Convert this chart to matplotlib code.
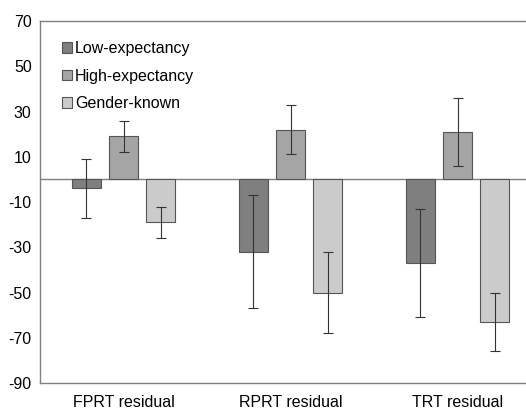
import numpy as np
import matplotlib
matplotlib.use('Agg')
import matplotlib.pyplot as plt

plt.rcParams['font.family'] = ['Liberation Sans', 'DejaVu Sans']

groups = ['FPRT residual', 'RPRT residual', 'TRT residual']
series = ['Low-expectancy', 'High-expectancy', 'Gender-known']
low = [-4, -32, -37]
low_err = [13, 25, 24]
high = [19, 22, 21]
high_err = [7, 11, 15]
gender = [-19, -50, -63]
gender_err = [7, 18, 13]
yticks = [70, 50, 30, 10, -10, -30, -50, -70, -90]

colors = ['#7f7f7f', '#a5a5a5', '#cbcbcb']

fig = plt.figure(figsize=(5.26, 4.09), dpi=100)
ax = fig.add_axes([40/526, 1 - 383/409, (526-40)/526, (383-21)/409])

x = np.arange(len(groups))
step = 0.222
width = 0.174
vals = [low, high, gender]
errs = [low_err, high_err, gender_err]
for i in range(3):
    ax.bar(x + (i-1)*step, vals[i], width, color=colors[i], edgecolor='#555555',
           linewidth=0.8, label=series[i], zorder=2)
    ax.errorbar(x + (i-1)*step, vals[i], yerr=errs[i], fmt='none', ecolor='#333333',
                elinewidth=0.8, capsize=3.5, capthick=0.8, zorder=3)

ax.axhline(0, color='#808080', linewidth=1, zorder=1)
ax.set_xlim(-0.5, 2.41)
ax.set_ylim(-90, 70)
ax.set_yticks(yticks)
ax.set_yticklabels([str(t) for t in yticks])
ax.set_xticks(x)
ax.set_xticklabels(groups)
ax.tick_params(length=0, labelsize=11.5, colors='black')
ax.tick_params(axis='y', pad=6)
ax.tick_params(axis='x', pad=8.5)
for s in ['left', 'top', 'bottom']:
    ax.spines[s].set_color('#808080')
    ax.spines[s].set_linewidth(1)
ax.spines['right'].set_visible(False)

leg = ax.legend(loc='upper left', bbox_to_anchor=(0.015, 0.985), frameon=False,
                fontsize=11.5, handlelength=0.65, handleheight=0.65, handletextpad=0.2,
                labelspacing=0.8)
for h in leg.legend_handles:
    h.set_linewidth(0.8)

plt.savefig('out.png', dpi=100)
